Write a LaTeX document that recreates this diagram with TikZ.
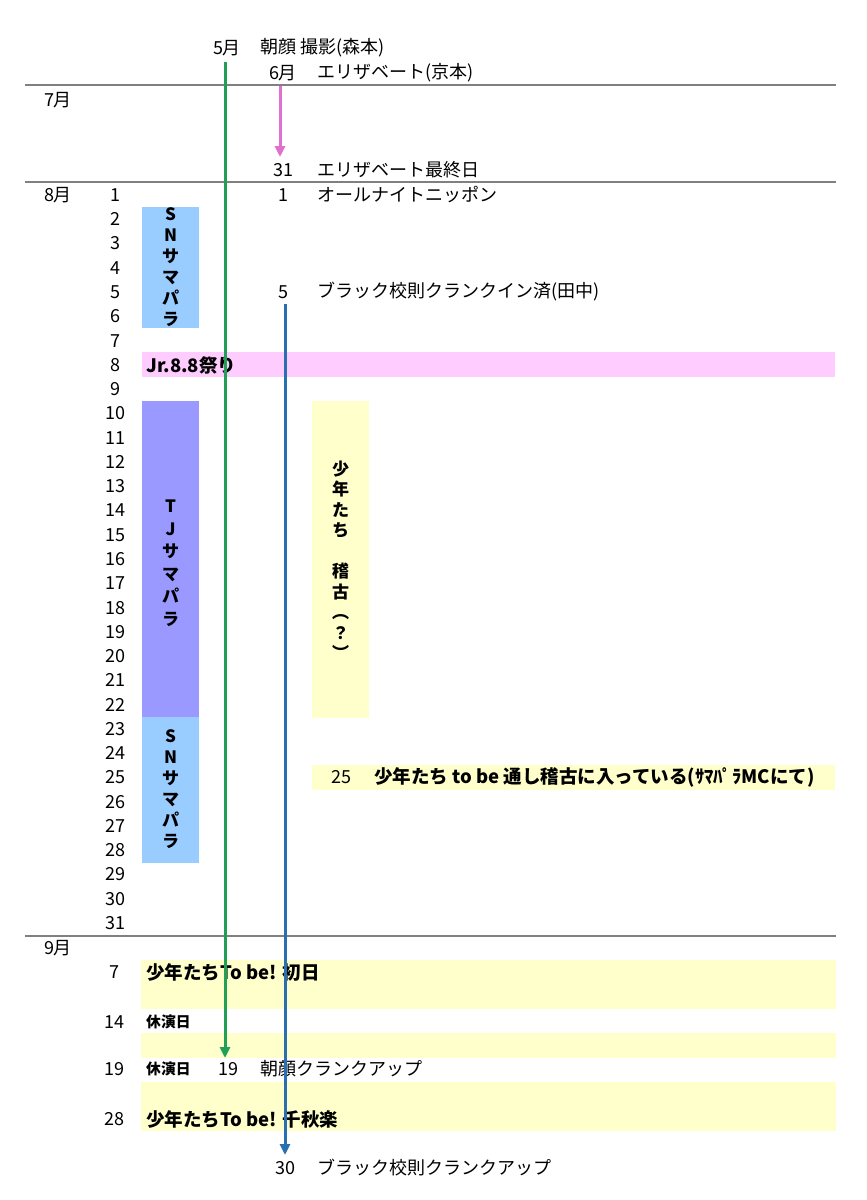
\documentclass[tikz,border=0pt]{standalone}
\usepackage{fontspec}
\setmainfont{Noto Sans CJK JP}
\usetikzlibrary{arrows.meta}
\definecolor{snblue}{HTML}{99CCFF}
\definecolor{tjpurple}{HTML}{9999FF}
\definecolor{pinkband}{HTML}{FFCCFF}
\definecolor{yelband}{HTML}{FFFFCC}
\definecolor{grn}{HTML}{20A055}
\definecolor{blu}{HTML}{2A70B0}
\definecolor{pnk}{HTML}{E070D0}
\definecolor{rulegray}{HTML}{808080}
\begin{document}
\begin{tikzpicture}[x=1pt,y=-1pt,
  txt/.style={font=\fontsize{18}{21}\selectfont, inner sep=1pt},
  num/.style={txt, anchor=center},
  lbl/.style={txt, anchor=west},
  bld/.style={font=\fontsize{18.5}{21}\selectfont\bfseries, inner sep=1pt, anchor=west},
  sml/.style={font=\fontsize{14.8}{17}\selectfont\bfseries, inner sep=1pt, anchor=west},
  vert/.style={font=\fontsize{17}{21}\selectfont\bfseries, align=center, inner sep=0pt},
  rulel/.style={draw=rulegray, line width=2.2pt},
  conn/.style={line width=3pt, -{Triangle[length=11pt,width=10pt]}}
]
\useasboundingbox (0,0) rectangle (867,1200);
% background bands
\fill[snblue] (142,207) rectangle (199,328);
\fill[pinkband] (142,352) rectangle (835,377);
\fill[tjpurple] (142,401) rectangle (199,717);
\fill[snblue] (142,717) rectangle (199,863);
\fill[yelband] (312,401) rectangle (369,718);
\fill[yelband] (312,765) rectangle (835,790);
\fill[yelband] (141,960) rectangle (836,1009);
\fill[yelband] (141,1033) rectangle (836,1058);
\fill[yelband] (141,1082) rectangle (836,1131);
% rules
\draw[rulel] (25,85) -- (836,85);
\draw[rulel] (25,182) -- (836,182);
\draw[rulel] (25,936) -- (836,936);
% vertical labels
\node[vert] (sn1) at (170.5,267) {S\\N\\サ\\マ\\パ\\ラ};
\node[vert, font=\fontsize{17}{22.5}\selectfont\bfseries] (tj) at (170.5,563) {T\\J\\サ\\マ\\パ\\ラ};
\node[vert] (sn2) at (170.5,789) {S\\N\\サ\\マ\\パ\\ラ};
\node[vert, font=\fontsize{17}{20.5}\selectfont\bfseries] (keiko) at (340.5,560) {少\\年\\た\\ち\\[20.5pt]稽\\古\\︵\\？\\︶};
% months
\node[num] (m5) at (227,48) {5月};
\node[lbl] (asagao) at (259,48) {朝顔 撮影(森本)};
\node[num] (m6) at (283,73) {6月};
\node[lbl] (eliz) at (316,73) {エリザベート(京本)};
\node[num] (m7) at (58,100) {7月};
\node[num] (e31) at (283,170) {31};
\node[lbl] (elizend) at (316,170) {エリザベート最終日};
\node[num] (m8) at (58,195) {8月};
\node[num] (a1) at (283,195) {1};
\node[lbl] (ann) at (316,195) {オールナイトニッポン};
\node[num] (b5) at (283,292) {5};
\node[lbl] (black) at (316,292) {ブラック校則クランクイン済(田中)};
\node[bld] (jr) at (145,365) {Jr.8.8祭り};
\node[num] (s25) at (341,777) {25};
\node[bld] (toshi) at (373,777) {少年たち to be 通し稽古に入っている(ｻﾏﾊﾟﾗMCにて)};
% day numbers
\foreach \d in {1,...,31}
  \node[num] (day\d) at (115,{195+(\d-1)*24.27}) {\d};
% September
\node[num] (m9) at (58,948) {9月};
\node[num] (s7) at (114,972) {7};
\node[bld] (shonichi) at (145,972) {少年たちTo be! 初日};
\node[num] (s14) at (114,1022) {14};
\node[sml] (kyu1) at (145,1022) {休演日};
\node[num] (s19) at (114,1069) {19};
\node[sml] (kyu2) at (145,1069) {休演日};
\node[num] (a19) at (228,1069) {19};
\node[lbl] (asaup) at (259,1069) {朝顔クランクアップ};
\node[num] (s28) at (114,1119) {28};
\node[bld] (senshu) at (145,1119) {少年たちTo be! 千秋楽};
\node[num] (b30) at (285,1168) {30};
\node[lbl] (blackup) at (316,1168) {ブラック校則クランクアップ};
% connectors
\coordinate (gstart) at (225,62);
\coordinate (gend) at (225,1058);
\coordinate (pstart) at (280,86);
\coordinate (pend) at (280,157);
\coordinate (bstart) at (285,304);
\coordinate (bend) at (285,1155);
\draw[conn, grn] (gstart) -- (gend);
\draw[conn, pnk] (pstart) -- (pend);
\draw[conn, blu] (bstart) -- (bend);
\end{tikzpicture}
\end{document}
